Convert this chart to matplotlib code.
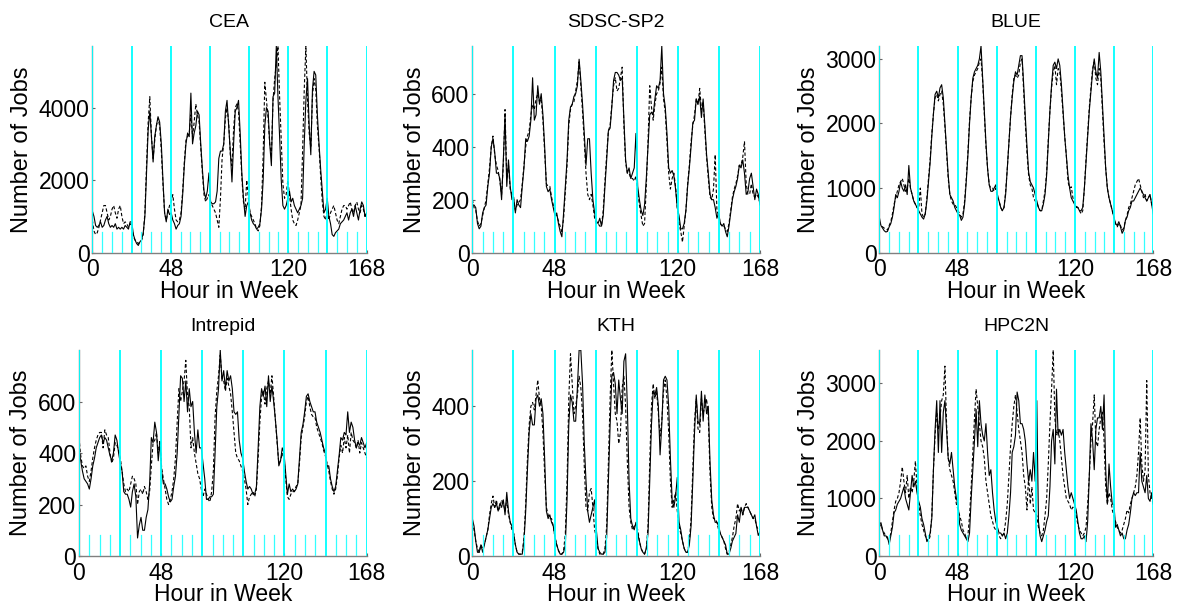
import numpy as np
import matplotlib
matplotlib.use("Agg")
import matplotlib.pyplot as plt

plt.rcParams['font.family'] = ['Liberation Sans', 'DejaVu Sans']

# hourly job counts over one week (solid = measured, dashed = model)
cea_solid = [
    1150, 1000, 750, 700, 750, 850, 700, 750, 900, 1000, 800, 700, 750, 700, 800, 650, 700, 650, 700, 650, 750, 700, 650, 850,
    850, 500, 350, 250, 200, 300, 350, 550, 1000, 2200, 3400, 3900, 3200, 2500, 3200, 3500, 3750, 3600, 3000, 2000, 1100, 850, 1200, 1050,
    1100, 900, 800, 650, 750, 800, 1000, 1600, 2400, 3000, 3300, 3200, 4400, 3000, 3300, 3500, 3900, 3800, 3000, 2300, 1700, 1500, 1700, 2200,
    1400, 1350, 1350, 1400, 1700, 2600, 2800, 2800, 3000, 3900, 4200, 3500, 2800, 1950, 3000, 3900, 4000, 4200, 3300, 2200, 1500, 1000, 1300, 1400,
    1100, 900, 800, 750, 650, 700, 800, 1200, 2000, 3500, 4000, 3900, 3000, 2400, 4300, 4400, 5700, 4300, 3200, 2000, 1300, 1200, 1300, 1500,
    1700, 1400, 1500, 1300, 1200, 1100, 1200, 1300, 1500, 3000, 4200, 4800, 3500, 2700, 4500, 5000, 4900, 3800, 3000, 2300, 1700, 1100, 1200, 1500,
    1000, 800, 500, 450, 550, 600, 650, 800, 850, 900, 1000, 1100, 900, 1100, 1200, 1000, 1300, 1100, 900, 1200, 1400, 1300, 1000, 1100,
]
cea_dashed = [
    900, 600, 500, 550, 700, 900, 1100, 1300, 1300, 1100, 900, 1000, 1200, 1300, 1100, 950, 1200, 1300, 1000, 800, 850, 800, 700, 800,
    750, 450, 350, 300, 250, 300, 350, 500, 1100, 2400, 3600, 4300, 3200, 2600, 3100, 3500, 3700, 3500, 2800, 1900, 1100, 900, 1100, 1300,
    1400, 1600, 1200, 900, 850, 900, 1100, 1700, 2500, 3100, 3200, 3300, 3800, 3200, 3600, 4100, 3800, 3600, 2900, 2200, 1600, 1400, 1500, 1600,
    1400, 1300, 1200, 1100, 900, 700, 1500, 2600, 3000, 3700, 4000, 3600, 2700, 2400, 3400, 4000, 4100, 3900, 3000, 2100, 1400, 1200, 2000, 1500,
    1100, 1000, 900, 800, 650, 600, 750, 1300, 2700, 4700, 4200, 3700, 3000, 2700, 4200, 4800, 5200, 5700, 4300, 3100, 1900, 1500, 1600, 2000,
    1600, 1200, 900, 800, 750, 900, 1100, 1300, 2800, 4500, 5700, 4200, 3300, 2900, 4300, 4800, 4500, 3500, 2900, 2100, 1400, 1000, 900, 1200,
    900, 1100, 1200, 1300, 1100, 900, 800, 1000, 1200, 1300, 1300, 1200, 1300, 1400, 1200, 1100, 1300, 1400, 1200, 1100, 1300, 1200, 1000, 1100,
]

sdsc_solid = [
    180, 180, 170, 110, 90, 100, 150, 170, 180, 250, 300, 400, 430, 380, 300, 300, 280, 200, 350, 520, 250, 350, 250, 200,
    210, 150, 200, 180, 170, 250, 320, 430, 420, 440, 500, 660, 500, 520, 630, 560, 600, 520, 400, 250, 230, 240, 200, 170,
    140, 150, 110, 80, 60, 150, 250, 350, 500, 550, 560, 590, 600, 630, 730, 650, 560, 450, 330, 430, 430, 300, 200, 150,
    120, 110, 130, 100, 140, 250, 350, 460, 470, 550, 650, 680, 680, 670, 650, 660, 500, 350, 300, 320, 280, 300, 320, 450,
    250, 200, 160, 140, 180, 280, 400, 520, 530, 520, 580, 630, 620, 650, 780, 600, 550, 450, 320, 300, 310, 290, 240, 170,
    140, 90, 90, 110, 160, 250, 320, 400, 490, 500, 580, 560, 590, 510, 580, 480, 370, 300, 220, 200, 200, 170, 130, 150,
    110, 100, 110, 80, 60, 100, 150, 200, 230, 250, 280, 330, 320, 350, 300, 220, 230, 280, 300, 250, 200, 240, 220, 180,
]
sdsc_dashed = [
    200, 170, 160, 120, 100, 110, 140, 170, 200, 260, 320, 400, 440, 370, 330, 310, 270, 220, 330, 540, 280, 330, 240, 220,
    200, 160, 180, 190, 200, 260, 330, 400, 440, 460, 520, 560, 540, 580, 600, 570, 580, 500, 380, 260, 250, 250, 210, 180,
    150, 140, 120, 100, 80, 130, 230, 330, 480, 540, 560, 570, 610, 650, 720, 630, 530, 420, 300, 220, 200, 220, 180, 130,
    110, 110, 100, 100, 160, 270, 370, 460, 480, 560, 630, 660, 610, 620, 660, 700, 480, 340, 300, 300, 280, 280, 270, 290,
    230, 180, 140, 100, 110, 250, 420, 630, 550, 500, 560, 600, 610, 640, 700, 580, 530, 420, 300, 240, 280, 300, 250, 170,
    110, 80, 40, 100, 160, 260, 330, 420, 480, 520, 580, 560, 620, 540, 570, 460, 360, 280, 210, 200, 240, 370, 160, 140,
    110, 100, 100, 90, 80, 110, 160, 210, 240, 260, 290, 330, 330, 360, 420, 260, 220, 220, 260, 220, 210, 220, 210, 190,
]

blue_solid = [
    550, 420, 380, 340, 320, 330, 400, 450, 550, 700, 900, 850, 950, 1100, 1000, 950, 1050, 900, 1350, 1000, 900, 800, 750, 700,
    650, 600, 550, 520, 600, 800, 1100, 1400, 1800, 2150, 2450, 2500, 2400, 2550, 2600, 2400, 2000, 1600, 1200, 900, 850, 800, 700, 650,
    600, 580, 500, 550, 750, 1100, 1500, 2000, 2400, 2700, 2800, 2850, 2900, 3000, 3200, 2700, 2200, 1700, 1300, 1050, 950, 950, 1000, 1050,
    900, 800, 700, 650, 700, 900, 1300, 1700, 2100, 2400, 2650, 2800, 2750, 2900, 3050, 3050, 2600, 2100, 1650, 1250, 1100, 1050, 1000, 900,
    800, 700, 650, 650, 750, 900, 1200, 1700, 2200, 2600, 2900, 2950, 2850, 3000, 2900, 2600, 2200, 1800, 1500, 1200, 1000, 850, 800, 750,
    700, 700, 650, 650, 700, 1000, 1400, 1800, 2200, 2500, 2800, 3000, 2800, 2700, 3100, 2800, 2300, 1800, 1300, 1000, 850, 750, 650, 550,
    450, 420, 480, 400, 300, 350, 500, 550, 650, 700, 800, 800, 850, 900, 950, 1000, 950, 900, 850, 800, 850, 900, 750, 600,
]
blue_dashed = [
    480, 420, 400, 380, 370, 350, 420, 480, 600, 750, 850, 950, 1050, 1100, 1150, 1050, 950, 1000, 1150, 1000, 900, 800, 750, 700,
    680, 1000, 600, 550, 600, 850, 1150, 1450, 1850, 2150, 2400, 2450, 2350, 2450, 2500, 2300, 1950, 1550, 1150, 900, 800, 750, 750, 700,
    650, 600, 550, 600, 800, 1150, 1550, 2050, 2400, 2650, 2750, 2800, 2850, 2950, 3000, 2650, 2150, 1650, 1300, 1050, 1000, 1000, 950, 1000,
    850, 800, 700, 650, 700, 950, 1300, 1700, 2100, 2450, 2700, 2750, 2700, 2750, 2950, 3000, 2500, 2000, 1550, 1200, 1050, 1000, 850, 800,
    780, 700, 650, 650, 800, 950, 1250, 1750, 2200, 2550, 2800, 2900, 2600, 2850, 2800, 2500, 2150, 1800, 1500, 1100, 1000, 1020, 850, 780,
    720, 700, 650, 600, 650, 1000, 1450, 1850, 2250, 2550, 2850, 2950, 2700, 2600, 2850, 2700, 2200, 1700, 1300, 1000, 850, 750, 650, 550,
    450, 400, 450, 420, 350, 380, 500, 580, 700, 750, 850, 950, 1050, 1100, 1150, 1050, 950, 850, 900, 800, 850, 900, 750, 650,
]

intrepid_solid = [
    420, 370, 330, 300, 290, 280, 260, 300, 350, 380, 420, 440, 460, 470, 440, 460, 450, 420, 390, 370, 400, 470, 450, 400,
    360, 330, 250, 240, 240, 220, 190, 250, 280, 230, 70, 120, 150, 100, 100, 150, 180, 280, 460, 440, 520, 480, 370, 440,
    330, 280, 280, 260, 230, 210, 220, 270, 310, 400, 550, 700, 690, 600, 680, 560, 650, 580, 600, 480, 400, 490, 420, 420,
    360, 300, 220, 220, 230, 230, 240, 400, 580, 650, 800, 680, 720, 650, 720, 680, 700, 650, 560, 550, 560, 450, 400, 380,
    330, 290, 260, 270, 260, 240, 240, 270, 420, 580, 650, 620, 660, 580, 700, 600, 660, 600, 530, 450, 350, 370, 420, 400,
    320, 240, 280, 250, 260, 250, 260, 280, 380, 480, 510, 560, 620, 630, 600, 580, 560, 560, 520, 500, 480, 450, 420, 400,
    350, 350, 300, 270, 250, 270, 330, 390, 460, 450, 480, 470, 560, 480, 520, 500, 450, 420, 440, 430, 460, 440, 420, 440,
]
intrepid_dashed = [
    460, 390, 350, 340, 350, 310, 290, 330, 380, 420, 450, 470, 480, 480, 420, 490, 470, 460, 400, 360, 380, 440, 430, 410,
    380, 330, 280, 250, 260, 250, 280, 310, 300, 280, 200, 250, 260, 240, 270, 250, 220, 250, 350, 440, 450, 480, 400, 450,
    340, 300, 260, 220, 200, 220, 250, 300, 380, 520, 650, 600, 640, 680, 760, 620, 580, 420, 460, 400, 360, 320, 300, 260,
    230, 260, 240, 220, 210, 250, 330, 540, 640, 700, 780, 690, 680, 640, 690, 660, 630, 560, 480, 400, 380, 370, 350, 330,
    300, 260, 200, 230, 240, 250, 230, 260, 380, 520, 620, 640, 590, 650, 680, 630, 700, 620, 530, 440, 360, 370, 400, 380,
    300, 230, 220, 240, 250, 250, 270, 280, 360, 460, 500, 540, 600, 620, 580, 550, 540, 540, 500, 480, 460, 440, 410, 390,
    360, 330, 290, 260, 240, 260, 310, 380, 430, 400, 460, 420, 470, 400, 480, 450, 440, 420, 450, 400, 440, 420, 400, 380,
]

kth_solid = [
    100, 80, 40, 10, 10, 30, 10, 30, 50, 70, 100, 130, 140, 130, 140, 120, 140, 130, 150, 110, 170, 120, 90, 80,
    60, 30, 10, 5, 5, 5, 40, 120, 230, 330, 380, 350, 350, 420, 430, 400, 420, 380, 260, 120, 100, 110, 90, 80,
    50, 30, 15, 5, 5, 10, 30, 150, 350, 430, 410, 360, 360, 450, 550, 550, 460, 300, 200, 120, 90, 110, 130, 150,
    70, 20, 10, 5, 5, 10, 50, 200, 350, 480, 490, 460, 380, 470, 420, 380, 520, 540, 400, 200, 100, 80, 70, 90,
    60, 40, 20, 10, 5, 20, 60, 200, 350, 440, 430, 450, 400, 270, 350, 470, 480, 470, 400, 260, 150, 130, 160, 210,
    90, 70, 40, 20, 10, 10, 30, 80, 200, 330, 430, 360, 350, 440, 360, 430, 380, 400, 250, 150, 110, 90, 90, 80,
    60, 50, 40, 30, 5, 5, 20, 40, 50, 60, 110, 90, 130, 110, 130, 130, 130, 120, 110, 100, 110, 80, 55, 65,
]
kth_dashed = [
    90, 70, 40, 20, 10, 30, 20, 30, 50, 70, 110, 140, 160, 130, 150, 120, 130, 150, 140, 120, 150, 110, 90, 70,
    60, 30, 10, 5, 5, 10, 50, 140, 260, 350, 400, 410, 390, 430, 470, 420, 400, 330, 220, 130, 110, 100, 100, 80,
    50, 30, 15, 5, 5, 15, 60, 200, 420, 540, 460, 380, 400, 430, 480, 450, 380, 240, 130, 120, 170, 180, 130, 70,
    50, 20, 5, 5, 5, 20, 80, 250, 420, 550, 460, 380, 360, 300, 330, 450, 480, 400, 250, 130, 90, 70, 80, 80,
    70, 40, 20, 10, 5, 20, 80, 250, 400, 460, 420, 440, 380, 320, 360, 440, 470, 420, 330, 200, 130, 150, 170, 120,
    80, 60, 40, 20, 10, 10, 40, 100, 230, 360, 420, 340, 330, 420, 380, 400, 420, 370, 220, 130, 100, 100, 90, 70,
    60, 50, 40, 20, 5, 10, 30, 50, 80, 100, 140, 120, 130, 110, 130, 140, 130, 120, 110, 100, 100, 80, 70, 70,
]

hpc2n_solid = [
    550, 580, 450, 350, 350, 330, 200, 350, 500, 750, 800, 900, 950, 1000, 1100, 1200, 1000, 900, 800, 1100, 1400, 1200, 1300, 1100,
    950, 850, 650, 550, 400, 250, 300, 400, 650, 1500, 2200, 2700, 1800, 2700, 1800, 2500, 2700, 2200, 1700, 1600, 1800, 1500, 1200, 1000,
    900, 550, 450, 400, 350, 300, 250, 400, 1000, 1500, 2000, 2550, 1900, 2700, 2300, 2100, 2000, 2300, 1800, 1400, 1500, 1100, 800, 600,
    500, 400, 400, 350, 400, 300, 400, 700, 1100, 1800, 1900, 2100, 2850, 2700, 2300, 2300, 2200, 2000, 1600, 1300, 1500, 1300, 1800, 1300,
    2700, 600, 350, 250, 350, 450, 600, 700, 1200, 2000, 2200, 1600, 2900, 2100, 2200, 2100, 2200, 1800, 1500, 1200, 1000, 1100, 1000, 900,
    800, 600, 400, 300, 300, 350, 250, 600, 1400, 2300, 2000, 1500, 2200, 2400, 2400, 2600, 2200, 2800, 1500, 900, 1600, 1200, 900, 900,
    500, 550, 450, 350, 400, 300, 300, 450, 550, 750, 1000, 1100, 1050, 1100, 1100, 1800, 1300, 1200, 1100, 1400, 1000, 950, 1100, 900,
]
hpc2n_dashed = [
    500, 550, 450, 400, 350, 300, 250, 400, 600, 800, 950, 1000, 1100, 1300, 1550, 1300, 1100, 1400, 1000, 1200, 1100, 1300, 1650, 1200,
    900, 700, 550, 450, 350, 300, 250, 350, 700, 1500, 2100, 2500, 2200, 2400, 2700, 2800, 3300, 2300, 1700, 1500, 1400, 1300, 1100, 900,
    800, 700, 600, 450, 400, 300, 350, 700, 1200, 1800, 2400, 2900, 2600, 2300, 2000, 1900, 1700, 1300, 1100, 900, 700, 600, 500, 450,
    400, 350, 300, 350, 400, 600, 900, 1400, 1900, 2300, 2600, 2800, 2500, 2200, 2000, 1800, 1400, 1200, 800, 1400, 900, 1200, 800, 750,
    700, 500, 400, 350, 450, 700, 1000, 1600, 2300, 2900, 3580, 2400, 2100, 2200, 2000, 1700, 1400, 1200, 1000, 950, 900, 800, 850, 800,
    700, 550, 450, 400, 350, 400, 500, 900, 1400, 2000, 2300, 2800, 2000, 1900, 2200, 2400, 2500, 2000, 1200, 900, 1100, 1000, 800, 700,
    600, 500, 450, 400, 450, 550, 650, 800, 750, 900, 1000, 1100, 1200, 1400, 1800, 2400, 1600, 1300, 1500, 3050, 1400, 1100, 1000, 900,
]

titles = ["CEA", "SDSC-SP2", "BLUE", "Intrepid", "KTH", "HPC2N"]
solids = [cea_solid, sdsc_solid, blue_solid, intrepid_solid, kth_solid, hpc2n_solid]
dasheds = [cea_dashed, sdsc_dashed, blue_dashed, intrepid_dashed, kth_dashed, hpc2n_dashed]
yticks = [[0, 2000, 4000], [0, 200, 400, 600], [0, 1000, 2000, 3000],
          [0, 200, 400, 600], [0, 200, 400], [0, 1000, 2000, 3000]]
xticks = [0, 48, 120, 168]

# axes boxes in figure fraction (left, bottom, width, height)
boxes = [
    (0.0783, 0.5844, 0.2327, 0.3400),
    (0.4006, 0.5844, 0.2440, 0.3400),
    (0.7458, 0.5844, 0.2324, 0.3400),
    (0.0670, 0.0855, 0.2440, 0.3388),
    (0.4006, 0.0855, 0.2440, 0.3388),
    (0.7458, 0.0855, 0.2324, 0.3388),
]

fig = plt.figure(figsize=(11.79, 6.08), dpi=100)

for i in range(6):
    ax = fig.add_axes(boxes[i])
    s = np.array(solids[i])
    d = np.array(dasheds[i])
    x = np.linspace(0, 168, len(s))
    ax.plot(x, s, color='black', lw=0.8, zorder=2)
    ax.plot(x, d, color='black', lw=0.8, dashes=(3, 2), zorder=2)
    ymax = max(s.max(), d.max())
    ax.set_xlim(0, 168)
    ax.set_ylim(0, ymax)

    # day boundaries and 6-hour marks
    for h in range(0, 169, 6):
        if h % 24 == 0:
            ax.axvline(h, color='#00ffff', lw=1.3, zorder=3)
        else:
            ax.plot([h, h], [0, 0.1 * ymax], color='#33ffff', lw=0.9, zorder=3)

    ax.set_xticks(xticks)
    ax.set_yticks(yticks[i])
    ax.tick_params(labelsize=16.5, direction='in', length=2, color='0.4')
    ax.tick_params(axis='x', pad=4)
    ax.tick_params(axis='y', pad=2)
    for sp in ['top', 'right']:
        ax.spines[sp].set_visible(False)
    for sp in ['left', 'bottom']:
        ax.spines[sp].set_color('0.5')
        ax.spines[sp].set_linewidth(1.0)
    ax.set_title(titles[i], fontsize=14, pad=14)
    ax.set_xlabel("Hour in Week", fontsize=16.5, labelpad=-1)
    ax.set_ylabel("Number of Jobs", fontsize=17, labelpad=4)

fig.savefig("out.png", dpi=100)
